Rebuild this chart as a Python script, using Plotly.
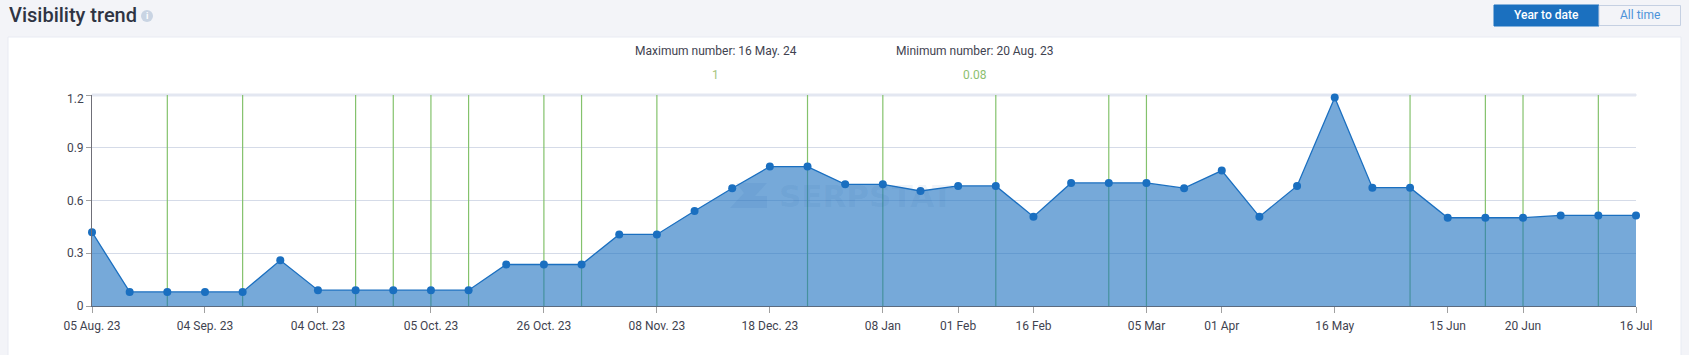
import plotly.graph_objects as go

W, H = 1689, 355
LEFT, RIGHT, TOP, BOTTOM = 92, 53, 95, 49

point_index = list(range(42))
visibility = [0.42, 0.08, 0.08, 0.08, 0.08, 0.26, 0.09, 0.09, 0.09, 0.09, 0.09, 0.236, 0.236, 0.236,
              0.407, 0.407, 0.54, 0.67, 0.793, 0.793, 0.692, 0.692, 0.654, 0.683, 0.683, 0.508, 0.70, 0.70,
              0.70, 0.67, 0.77, 0.508, 0.683, 1.186, 0.673, 0.673, 0.502, 0.502, 0.502, 0.515, 0.515, 0.515]
tick_positions = [0, 3, 6, 9, 12, 15, 18, 21, 23, 25, 28, 30, 33, 36, 38, 41]
tick_labels = ["05 Aug. 23", "04 Sep. 23", "04 Oct. 23", "05 Oct. 23", "26 Oct. 23", "08 Nov. 23", "18 Dec. 23",
               "08 Jan", "01 Feb", "16 Feb", "05 Mar", "01 Apr", "16 May", "15 Jun", "20 Jun", "16 Jul"]
marked_points = [2, 4, 7, 8, 9, 10, 12, 13, 15, 19, 21, 24, 27, 28, 35, 37, 38, 40]
y_ticks = [0, 0.3, 0.6, 0.9, 1.2]
y_labels = ["0", "0.3", "0.6", "0.9", ""]
top_y_label = "1.2"

BG = "#f3f4f8"
BLUE = "#1a6fc0"
FONT = "Roboto"


def px(x):
    return (x - LEFT) / (W - LEFT - RIGHT)


def py(y):
    return (H - BOTTOM - y) / (H - TOP - BOTTOM)


marker_x, marker_y = [], []
for p in marked_points:
    marker_x += [p, p, None]
    marker_y += [0, 1.2, None]

fig = go.Figure()
fig.add_trace(go.Scatter(x=marker_x, y=marker_y, mode="lines", hoverinfo="skip",
                         line=dict(color="#84c26c", width=1.2), showlegend=False))
fig.add_trace(go.Scatter(x=point_index, y=visibility, mode="lines+markers", fill="tozeroy",
                         fillcolor="rgba(26,111,192,0.6)", line=dict(color=BLUE, width=1.3),
                         marker=dict(color=BLUE, size=8), cliponaxis=False, showlegend=False))


def rect(x0, y0, x1, y1, fill, line=None, layer="below"):
    return dict(type="rect", xref="paper", yref="paper", x0=px(x0), x1=px(x1), y0=py(y0), y1=py(y1),
                fillcolor=fill, line=dict(color=line or fill, width=1), layer=layer)


shapes = [
    rect(8, 37, 1681, 360, "#ffffff", "#e8ebf3"),
    rect(92, 94, 1636, 96, "#e3e7f1"),
    rect(1494, 5, 1599, 26, "#1b70bf"),
    rect(1599, 5.5, 1680.5, 25.5, BG, "#c5d0e2"),
    dict(type="circle", xref="paper", yref="paper", x0=px(141), x1=px(153), y0=py(10), y1=py(22),
         fillcolor="#c9d4e3", line=dict(width=0), layer="below"),
    # watermark logo
    dict(type="path", xref="paper", yref="paper", layer="above", line=dict(width=0),
         fillcolor="rgba(30,90,165,0.08)",
         path=f"M {px(736)} {py(183)} L {px(767)} {py(183)} L {px(755)} {py(196)} L {px(767)} {py(196)} "
              f"L {px(767)} {py(208)} L {px(730)} {py(208)} L {px(744)} {py(193)} Z"),
]


def text(x, y, s, size=12, color="#3f4350", anchor="center", weight=None, family=FONT):
    return dict(xref="paper", yref="paper", x=px(x), y=py(y), text=s, showarrow=False, xanchor=anchor,
                yanchor="middle", font=dict(family=family, size=size, color=color, weight=weight))


annotations = [
    text(7, 15, "Visibility trend", size=20, color="#2f3443", anchor="left", weight=500),
    text(147, 16, "i", size=9, color="#ffffff", weight=700),
    text(716, 51, "Maximum number: 16 May. 24"),
    text(715, 75, "1", color="#a6c57e"),
    text(975, 51, "Minimum number: 20 Aug. 23"),
    text(975, 75, "0.08", color="#8dc06f"),
    text(1546, 15.5, "Year to date", color="#ffffff", weight=500),
    text(1640, 15.5, "All time", color="#4d93d9"),
    text(866, 196, "SERPSTAT", size=31, color="rgba(30,90,165,0.08)", weight=700, family="DejaVu Sans"),
    text(86, 99, top_y_label, anchor="right"),
]

fig.update_layout(
    width=W, height=H, margin=dict(l=LEFT, r=RIGHT, t=TOP, b=BOTTOM), autosize=False,
    paper_bgcolor=BG, plot_bgcolor="rgba(0,0,0,0)",
    font=dict(family=FONT, size=12, color="#3f4350"),
    shapes=shapes, annotations=annotations, showlegend=False,
    xaxis=dict(range=[0, 41], tickmode="array", tickvals=tick_positions, ticktext=tick_labels,
               showgrid=False, zeroline=False, showline=True, linecolor="#5b6b80", linewidth=1,
               ticks="outside", ticklen=6, tickcolor="#a0a0a0", tickwidth=1, ticklabelstandoff=3,
               tickfont=dict(family=FONT, size=12, color="#3f4350")),
    yaxis=dict(range=[0, 1.2], tickmode="array", tickvals=y_ticks, ticktext=y_labels,
               showgrid=True, gridcolor="#d5dbe8", gridwidth=1, zeroline=False, showline=True,
               linecolor="#6f6f78", linewidth=1, ticks="outside", ticklen=5, tickcolor="#a0a0a0",
               tickfont=dict(family=FONT, size=12, color="#3f4350")),
)

fig.write_html("out.html", post_script="document.body.style.margin='0';document.body.style.overflow='hidden';"
                                       "document.body.style.background='#f3f4f8';",
               config=dict(displayModeBar=False))
